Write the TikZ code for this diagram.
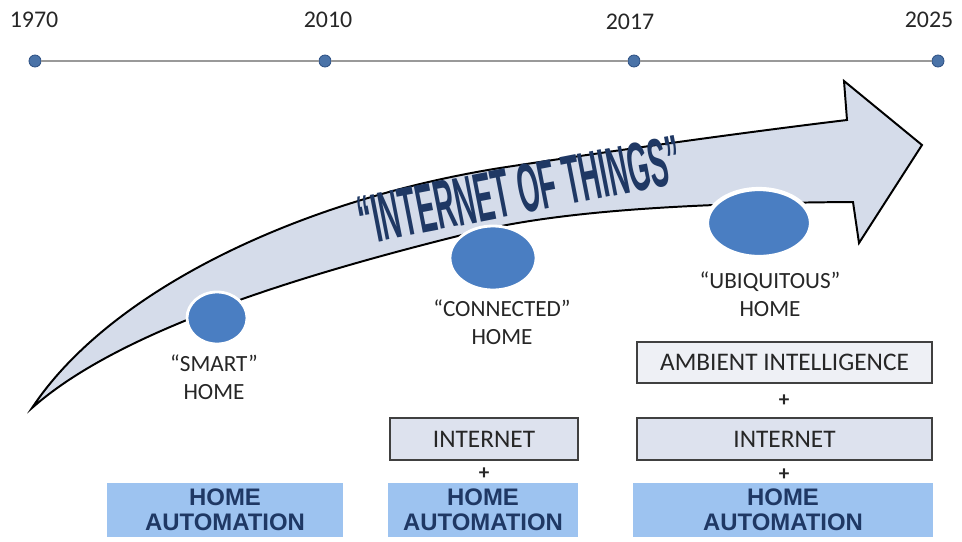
\documentclass[tikz,border=0pt]{standalone}
\usepackage{fontspec}
\setmainfont{Carlito}
\newfontfamily\arialfont{Liberation Sans}
\usetikzlibrary{shapes,positioning,calc}

\definecolor{dotblue}{HTML}{4A73A8}
\definecolor{dotedge}{HTML}{2F5285}
\definecolor{arrowfill}{HTML}{D5DCEA}
\definecolor{circblue}{HTML}{4A7EC2}
\definecolor{autofill}{HTML}{9DC3F0}
\definecolor{navy}{HTML}{1F3864}
\definecolor{netfill}{HTML}{DDE2EE}
\definecolor{ambfill}{HTML}{EEF0F5}

\begin{document}
\begin{tikzpicture}[x=0.025cm,y=-0.025cm,
    dot/.style={circle,fill=dotblue,draw=dotedge,line width=0.6pt,
        inner sep=0pt,minimum size=0.3cm},
    year/.style={font=\fontsize{17}{20}\selectfont,text=black!85},
    homecircle/.style={ellipse,fill=circblue,draw=white,line width=2pt,
        inner sep=0pt},
    homelabel/.style={align=center,text=black!85,
        font=\fontsize{16.5}{20}\selectfont},
    autobox/.style={fill=autofill,text=navy,align=center,inner sep=0pt,
        minimum height=1.35cm,font=\arialfont\bfseries\fontsize{17}{18}\selectfont},
    netbox/.style={fill=netfill,draw=black!75,line width=0.8pt,inner sep=0pt,
        minimum height=1.05cm,text=black!85,font=\fontsize{18}{20}\selectfont},
    plus/.style={text=black!85,font=\bfseries\fontsize{15}{16}\selectfont}
]
    \useasboundingbox (0,0) rectangle (962,541);

    % time line
    \node[dot] (d1970) at (35,61) {};
    \node[dot] (d2010) at (325,61) {};
    \node[dot] (d2017) at (634,61) {};
    \node[dot] (d2025) at (938,61) {};
    \draw[black!40,line width=1.4pt] (d1970) -- (d2010) -- (d2017) -- (d2025);
    \node[year] (y1970) at (34,20) {1970};
    \node[year] (y2010) at (328,20) {2010};
    \node[year] (y2017) at (630,22) {2017};
    \node[year] (y2025) at (929,20) {2025};

    % the big arrow
    \filldraw[fill=arrowfill,draw=black,line width=1.4pt,line join=miter]
        (32,408) .. controls (110,290) and (300,200) .. (500,168)
        .. controls (650,145) and (780,128) .. (847,120)
        -- (844,81) -- (922,145) -- (859,243) -- (853,202)
        .. controls (700,203) and (560,210) .. (470,233)
        .. controls (300,275) and (120,330) .. (32,408)
        -- cycle;

    \node[rotate=11,text=navy,inner sep=0pt] (iot) at (520,190)
        {\arialfont\bfseries\fontsize{24}{28}\selectfont
         \scalebox{0.83}[2.05]{“INTERNET OF THINGS”}};

    % homes
    \node[homecircle,minimum width=1.5cm,minimum height=1.3cm]
        (smart) at (217,318) {};
    \node[homecircle,minimum width=2.15cm,minimum height=1.6cm]
        (connected) at (493,258) {};
    \node[homecircle,minimum width=2.6cm,minimum height=1.7cm,
        line width=3pt] (ubiq) at (759,223) {};

    \node[homelabel] (smartlbl) at (214,377) {“SMART”\\HOME};
    \node[homelabel] (connlbl) at (502,322) {“CONNECTED”\\HOME};
    \node[homelabel] (ubiqlbl) at (770,294) {“UBIQUITOUS”\\HOME};

    % technologies
    \node[autobox,minimum width=5.9cm] (auto1) at (225,510)
        {HOME\\AUTOMATION};
    \node[autobox,minimum width=4.75cm] (auto2) at (483,510)
        {HOME\\AUTOMATION};
    \node[autobox,minimum width=7.5cm] (auto3) at (783,510)
        {HOME\\AUTOMATION};

    \node[netbox,minimum width=4.7cm] (net2) at (484,439) {INTERNET};
    \node[plus] (plus2) at (484,474) {+};

    \node[netbox,fill=ambfill,minimum width=7.375cm,minimum height=1.025cm]
        (amb3) at (784.5,362.5) {AMBIENT INTELLIGENCE};
    \node[plus] (plus3a) at (784,401) {+};
    \node[netbox,minimum width=7.375cm] (net3) at (784.5,439) {INTERNET};
    \node[plus] (plus3b) at (784,475) {+};
\end{tikzpicture}
\end{document}
